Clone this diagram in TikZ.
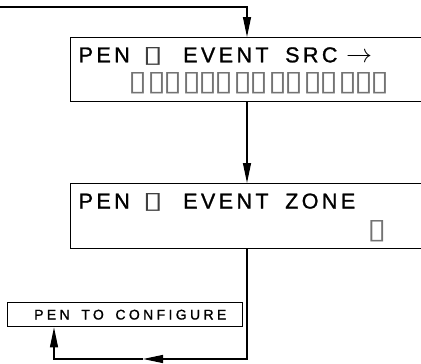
\documentclass[tikz,border=0pt]{standalone}
\usepackage{fontspec}
\usepackage{graphicx}
\setmainfont{Liberation Sans}
\newfontfamily\dispfont[LetterSpace=16,FakeBold=1.2]{Liberation Sans}
\newfontfamily\smallfont[LetterSpace=24,FakeBold=1.2,WordSpace=1.6]{Liberation Sans}
\newfontfamily\symfont{DejaVu Sans}
\usetikzlibrary{arrows.meta,calc}
% tofu glyph (missing character), calibrated to its ink
\newcommand{\tofuA}{\hspace*{-5.2pt}\resizebox{20.6pt}{15pt}{\symfont ▯}\hspace*{-3.4pt}}
\newcommand{\tofuB}{\hspace*{-4.8pt}\resizebox{19pt}{18pt}{\symfont ▯}\hspace*{-3.2pt}}
\newcommand{\tfb}{\makebox[16pt][l]{\textcolor{black!55}{\tofuB}}}
\newcommand{\gp}{\hspace{3pt}}
\begin{document}
\begin{tikzpicture}[x=1pt,y=-1pt,
  box/.style={draw, line width=1.4pt, rectangle, inner sep=0pt, anchor=north west},
  conn/.style={line width=1.2pt},
  tip/.style={-{Triangle[length=20pt,width=8pt]}},
  txt/.style={anchor=base west, inner sep=0pt}]
\useasboundingbox (0,0) rectangle (421,364);
% boxes
\node[box, minimum width=370pt, minimum height=64pt] (b1) at (70,37) {};
\node[box, minimum width=370pt, minimum height=65pt] (b2) at (70,183) {};
\node[box, minimum width=235pt, minimum height=24pt] (b3) at (7,302) {};
% texts
\node[txt] (t1) at (78.5,62.3) {\fontsize{21.5}{24}\dispfont
  \makebox[69pt][l]{PEN}\makebox[35.5pt][l]{\textcolor{black!75}{\tofuA}}\makebox[102pt][l]{EVENT}\makebox[61pt][l]{SRC}\resizebox{26pt}{!}{$\rightarrow$}};
\node[txt] (t2) at (132.7,90) {\tfb\gp\tfb\tfb\gp\tfb\tfb\tfb\gp\tfb\tfb\gp\tfb\tfb\gp\tfb\tfb\gp\tfb\tfb\tfb};
\node[txt] (t3) at (78.5,208.5) {\fontsize{21.5}{24}\dispfont
  \makebox[69pt][l]{PEN}\makebox[35.5pt][l]{\textcolor{black!75}{\tofuA}}\makebox[102pt][l]{EVENT}ZONE};
\node[txt] (t4) at (372,238) {\textcolor{black!55}{\tofuB}};
\node[txt] (t5) at (34,319.5) {\fontsize{14}{16}\smallfont PEN TO CONFIGURE};
% connectors
\coordinate (in) at (0,7);
\coordinate (b1top) at ($(b1.north west)+(177,0)$);
\coordinate (b1bot) at ($(b1.south west)+(177,0)$);
\coordinate (b2top) at ($(b2.north west)+(177,0)$);
\coordinate (b2bot) at ($(b2.south west)+(177,0)$);
\coordinate (b3bot) at ($(b3.south west)+(47,0)$);
\coordinate (mid) at (143,359);
\coordinate (lc) at (54,359);
\draw[conn,tip] (in) -| (b1top);
\draw[conn,tip] (b1bot) -- (b2top);
\draw[conn,tip] (b2bot) |- (mid);
\draw[conn,tip] (mid) -- (lc) -- (b3bot);
\end{tikzpicture}
\end{document}
